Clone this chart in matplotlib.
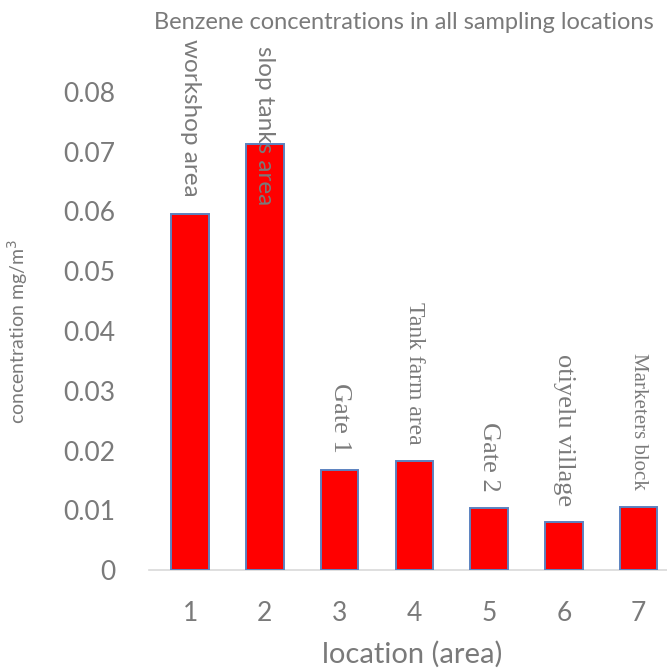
import matplotlib.pyplot as plt

locations = [1, 2, 3, 4, 5, 6, 7]
benzene = [0.0596, 0.0712, 0.0168, 0.0182, 0.0104, 0.0080, 0.0106]
area_names = ["workshop area", "slop tanks area", "Gate 1", "Tank farm area",
              "Gate 2", "otiyelu village", "Marketers block"]
y_ticks = [0, 0.01, 0.02, 0.03, 0.04, 0.05, 0.06, 0.07, 0.08]

GRAY = "#7a7a7a"

plt.rcParams["font.family"] = ["Lato", "DejaVu Sans"]

fig = plt.figure(figsize=(6.67, 6.70), dpi=100)
# plot area runs off the right edge like the original
ax = fig.add_axes([0.2235, 0.149, 0.79, 0.714])

ax.bar(locations, benzene, width=0.5, color="#ff0000",
       edgecolor="#5b82c0", linewidth=1.4, zorder=3)

ax.set_xlim(0.45, 7.5)
ax.set_ylim(0, 0.08)
ax.set_xticks(locations)
ax.set_xticklabels([str(v) for v in locations])
ax.set_yticks(y_ticks)
ax.set_yticklabels(["0" if v == 0 else f"{v:.2f}" for v in y_ticks])
ax.tick_params(axis="both", length=0, colors=GRAY, labelsize=19)
ax.tick_params(axis="x", pad=22)
ax.tick_params(axis="y", pad=24)

for side in ["top", "right", "left"]:
    ax.spines[side].set_visible(False)
ax.spines["bottom"].set_color("#d9d9d9")
ax.spines["bottom"].set_linewidth(1.2)

ax.set_xlabel("location (area)", color=GRAY, fontsize=21, labelpad=11)
fig.text(0.027, 0.505, "concentration mg/m$^3$", rotation=90, color=GRAY,
         fontsize=14, ha="center", va="center")
fig.text(0.605, 0.966, "Benzene concentrations in all sampling locations",
         color=GRAY, fontsize=17, ha="center", va="center")

# data labels, written top to bottom above each bar
label_fonts = [("Lato", 17.5), ("Lato", 17.5), ("Liberation Serif", 19),
               ("Liberation Serif", 17), ("Liberation Serif", 19),
               ("Liberation Serif", 19), ("Liberation Serif", 15)]
for i, (x, v, name) in enumerate(zip(locations, benzene, area_names)):
    fam, size = label_fonts[i]
    if i == 1:
        ax.annotate(name, (x, 1.0), xycoords=("data", "axes fraction"),
                    xytext=(0, 33), textcoords="offset points",
                    rotation=270, ha="center", va="top", color=GRAY,
                    family=fam, fontsize=size, zorder=4,
                    annotation_clip=False)
    else:
        ax.annotate(name, (x, v), xytext=(0, 12), textcoords="offset points",
                    rotation=270, ha="center", va="bottom", color=GRAY,
                    family=fam, fontsize=size, zorder=4,
                    annotation_clip=False)

fig.savefig("out.png", dpi=100)
